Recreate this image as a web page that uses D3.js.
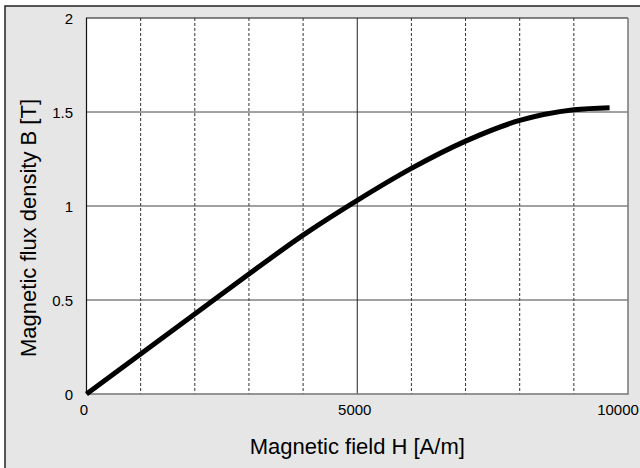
<!DOCTYPE html>
<html>
<head>
<meta charset="utf-8">
<script src="https://cdn.jsdelivr.net/npm/d3@7"></script>
<style>
  body { margin: 0; background: #fff; }
  text { font-family: "Liberation Sans", Arial, sans-serif; fill: #000; }
</style>
</head>
<body>
<div id="chart"></div>
<script>
// B-H magnetisation curve
var fieldH = [0, 1000, 2000, 3000, 4000, 5000, 6000, 7000, 8000, 9000, 9660];
var fluxB = [0, 0.213, 0.425, 0.638, 0.845, 1.03, 1.2, 1.345, 1.455, 1.512, 1.523];
var xTicks = [0, 5000, 10000];
var yTicks = [0, 0.5, 1, 1.5, 2];
var xMinorGrid = [1000, 2000, 3000, 4000, 6000, 7000, 8000, 9000];

var W = 640, H = 468;
var margin = {top: 18, right: 12, bottom: 74, left: 86.5},
    width = W - margin.left - margin.right,
    height = H - margin.top - margin.bottom;

var svg = d3.select('#chart').append('svg')
	.attr('width', W)
	.attr('height', H);

// figure frame
svg.append('rect')
    .attr('x', 5).attr('y', 6)
    .attr('width', W).attr('height', H)
    .style('fill', '#e6e6e6')
    .style('stroke', '#222')
    .style('stroke-width', 1.5);

var g = svg.append('g')
	.attr('transform', 'translate(' + margin.left + ',' + margin.top + ')');

var x = d3.scaleLinear().domain([0, 10000]).range([0, width]);
var y = d3.scaleLinear().domain([0, 2]).range([height, 0]);

g.append('rect')
    .attr('width', width).attr('height', height)
    .style('fill', '#fff');

// dashed minor grid
g.selectAll('.minor')
    .data(xMinorGrid)
    .enter()
    .append('line')
    .attr('x1', d => x(d)).attr('x2', d => x(d))
    .attr('y1', 0).attr('y2', height)
    .style('stroke', '#333')
    .style('stroke-width', 1)
    .style('stroke-dasharray', '3,2');

// solid grid
g.selectAll('.hgrid')
    .data([0.5, 1, 1.5])
    .enter()
    .append('line')
    .attr('x1', 0).attr('x2', width)
    .attr('y1', d => y(d)).attr('y2', d => y(d))
    .style('stroke', '#444')
    .style('stroke-width', 1);

g.append('line')
    .attr('x1', x(5000)).attr('x2', x(5000))
    .attr('y1', 0).attr('y2', height)
    .style('stroke', '#222')
    .style('stroke-width', 1);

// plot box: dark top/left, grey bottom/right
g.append('path')
    .attr('d', 'M0,' + height + 'V0H' + width)
    .style('fill', 'none').style('stroke', '#111').style('stroke-width', 1.2);
g.append('path')
    .attr('d', 'M0,' + height + 'H' + width + 'V0')
    .style('fill', 'none').style('stroke', '#777').style('stroke-width', 1.5);

// curve
var line = d3.line()
	.x(function(d, i) { return x(fieldH[i]); })
	.y(function(d) { return y(d); })
	.curve(d3.curveMonotoneX);

g.append('path')
    .datum(fluxB)
    .attr('d', line)
    .style('fill', 'none')
    .style('stroke', '#000')
    .style('stroke-width', 5);

// tick labels
g.selectAll('.ylab')
    .data(yTicks)
    .enter()
    .append('text')
    .attr('x', -13.5)
    .attr('y', d => y(d))
    .attr('dominant-baseline', 'central')
    .style('text-anchor', 'end')
    .style('font-size', '15px')
    .text(d => d);

g.selectAll('.xlab')
    .data(xTicks)
    .enter()
    .append('text')
    .attr('x', d => x(d))
    .attr('dx', (d, i) => i == 2 ? -10 : -2.5)
    .attr('y', height + 20.5)
    .style('text-anchor', 'middle')
    .style('font-size', '15px')
    .text(d => d);

// axis titles
g.append('text')
    .attr('x', width / 2)
    .attr('y', height + 60)
    .style('text-anchor', 'middle')
    .style('font-size', '22px')
    .text('Magnetic field H [A/m]');

g.append('text')
    .attr('transform', 'rotate(-90)')
    .attr('x', -210)
    .attr('y', -50.5)
    .style('text-anchor', 'middle')
    .style('font-size', '22px')
    .text('Magnetic flux density B [T]');
</script>
</body>
</html>
